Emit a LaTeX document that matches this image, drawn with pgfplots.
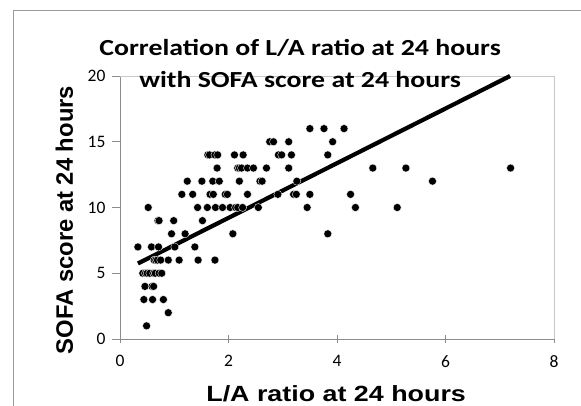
\documentclass[border=0pt]{standalone}
\usepackage{pgfplots}
\pgfplotsset{compat=1.18}
\usepackage{fontspec}
\setmainfont{Carlito}
\newfontfamily\arialfont{Liberation Sans}

\definecolor{axisgray}{HTML}{8C8C8C}
\definecolor{boxgray}{HTML}{C8C8C8}
\definecolor{framegray}{HTML}{9A9A9A}

\begin{document}
\begin{tikzpicture}[x=1pt,y=1pt]
\useasboundingbox (-120,-67) rectangle (461,339);
% chart frame (only left and top edges fall inside the picture)
\draw[framegray, line width=1pt] (-106,-100) -- (-106,328) -- (480,328);
\begin{axis}[
  at={(0,0)}, anchor=south west,
  scale only axis,
  width=434pt, height=263pt,
  xmin=0, xmax=8, ymin=0, ymax=20,
  xtick={0,2,4,6,8},
  ytick={0,5,10,15,20},
  axis x line*=bottom,
  axis y line*=left,
  axis line style={axisgray, line width=0.9pt},
  tick align=center,
  major tick length=8pt,
  xtick style={axisgray, line width=0.9pt},
  ytick style={axisgray, line width=0.9pt, xshift=-4pt},
  /pgf/number format/assume math mode=true,
  tick label style={font=\fontsize{17.5}{17.5}\selectfont, black},
  xticklabel style={yshift=-9pt},
  yticklabel style={xshift=-7pt},
  title={\scalebox{1.21}[1]{Correlation of L/A ratio at 24 hours}\\\scalebox{1.21}[1]{with SOFA score at 24 hours}},
  title style={at={(axis description cs:0.415,0.933)}, anchor=base,
    align=center, font=\fontsize{23}{32.6}\selectfont\bfseries},
  xlabel={\scalebox{1.22}[1]{L/A ratio at 24 hours}},
  ylabel={SOFA score at 24 hours},
  xlabel style={at={(axis description cs:0.498,-0.2395)}, anchor=base,
    font=\arialfont\fontsize{22}{22}\selectfont\bfseries},
  ylabel style={at={(axis description cs:-0.128,0.452)}, anchor=center,
    font=\arialfont\fontsize{23.8}{23.8}\selectfont\bfseries},
  clip=false,
]
\draw[boxgray, line width=0.9pt] (rel axis cs:0,1) -- (rel axis cs:1,1) -- (rel axis cs:1,0);
\addplot[only marks, mark=*, mark size=4pt,
  mark options={fill=black, draw=white, line width=0.35pt}] coordinates {
  (3.50,16) (3.76,16) (4.13,16)
  (2.76,15) (2.83,15) (3.11,15) (3.92,15)
  (1.62,14) (1.65,14) (1.75,14) (1.80,14) (2.11,14) (2.27,14) (2.92,14) (2.98,14) (3.16,14) (3.83,14)
  (1.79,13) (2.17,13) (2.20,13) (2.24,13) (2.35,13) (2.46,13) (2.70,13) (3.11,13) (4.66,13) (5.27,13) (7.20,13)
  (1.24,12) (1.51,12) (1.71,12) (1.83,12) (2.20,12) (2.58,12) (2.62,12) (3.26,12) (5.76,12)
  (1.14,11) (1.34,11) (1.66,11) (1.72,11) (1.94,11) (1.98,11) (2.35,11) (2.91,11) (3.20,11) (3.25,11) (3.50,11) (4.25,11)
  (0.52,10) (1.43,10) (1.61,10) (1.76,10) (1.89,10) (2.03,10) (2.13,10) (2.17,10) (2.26,10) (2.55,10) (3.45,10) (4.34,10) (5.11,10)
  (0.70,9) (0.72,9) (0.99,9) (1.52,9)
  (0.95,8) (1.20,8) (2.08,8) (3.83,8)
  (0.33,7) (0.58,7) (0.71,7) (1.01,7) (1.38,7)
  (0.63,6) (0.66,6) (0.69,6) (0.75,6) (0.89,6) (1.09,6) (1.44,6) (1.75,6)
  (0.42,5) (0.47,5) (0.50,5) (0.55,5) (0.62,5) (0.65,5) (0.72,5) (0.77,5)
  (0.46,4) (0.59,4) (0.62,4)
  (0.44,3) (0.60,3) (0.80,3)
  (0.89,2)
  (0.49,1)
};
% linear trend line
\addplot[black, line width=4.2pt] coordinates {(0.33,5.74) (7.19,20.0)};
\end{axis}
\end{tikzpicture}
\end{document}
